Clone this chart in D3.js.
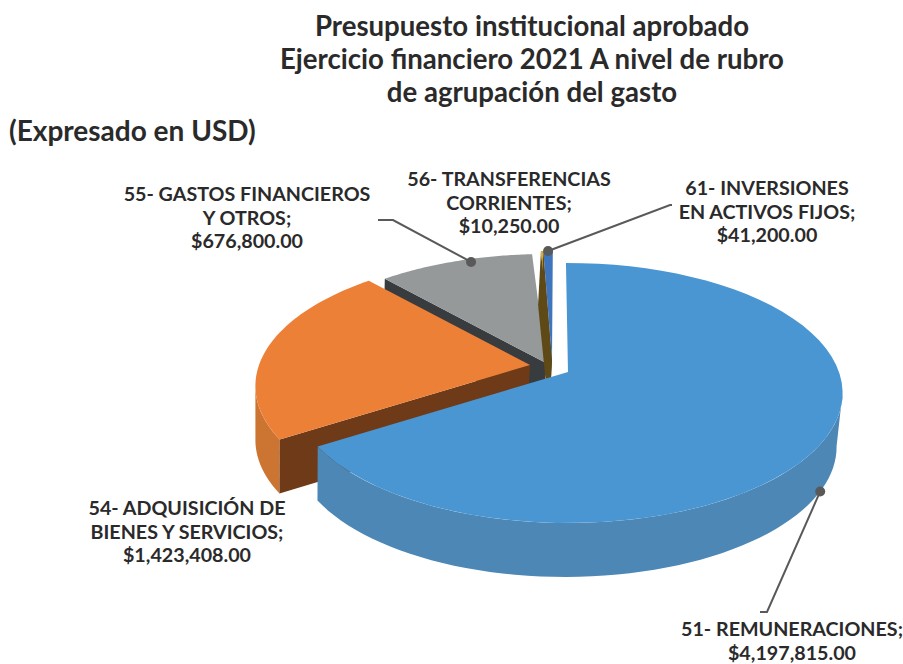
<!DOCTYPE html>
<html><head><meta charset="utf-8">
<script src="https://cdn.jsdelivr.net/npm/d3@7"></script>
<style>html,body{margin:0;background:#fff}svg{display:block}text{font-family:Lato,"Open Sans",sans-serif;fill:#2b2a2b}</style>
</head><body><svg id="c" width="903" height="664"></svg>
<script>
const categories=["51- REMUNERACIONES","54- ADQUISICIÓN DE BIENES Y SERVICIOS","55- GASTOS FINANCIEROS Y OTROS","56- TRANSFERENCIAS CORRIENTES","61- INVERSIONES EN ACTIVOS FIJOS"];
const values=[4197815,1423408,676800,10250,41200];
const topColors=["#4a96d3","#ed8037","#95999a","#dca522","#3f75bd"];
const rimColors=["#4d87b5","#cc7533","#6e7273","#7a5c17","#2f5a94"];
const wallColors=["#3d6f9a","#6f3a17","#383c3f","#5f4a17","#5f4a17"];
const apexX=[568,530,546,552,552];
const apexY=[372,365,363,360,360];
const sliceTurn=[0,0,0,0.7,0.7];
const titleLines=["Presupuesto institucional aprobado","Ejercicio financiero 2021 A nivel de rubro","de agrupación del gasto"];
const subtitle="(Expresado en USD)";
const labelLines=[["51- REMUNERACIONES;","$4,197,815.00"],["54- ADQUISICIÓN DE","BIENES Y SERVICIOS;","$1,423,408.00"],["55- GASTOS FINANCIEROS","Y OTROS;","$676,800.00"],["56- TRANSFERENCIAS","CORRIENTES;","$10,250.00"],["61- INVERSIONES","EN ACTIVOS FIJOS;","$41,200.00"]];
const labelX=[792,187,247,509,767];
const labelY=[636,515,201,186,195];
const leaderIdx=[0,2,4];

const svg=d3.select("#c");
const RX=271,RY=126.6,K=0.1615,DEPTH=54,SX=0.989,DX=-3;
const rad=Math.PI/180;
const startAngle=-0.5*rad;
const arcs=d3.pie().sort(null).startAngle(startAngle).endAngle(startAngle+2*Math.PI)(values);
function proj(i,a0,r=1,bottom=false){
  const a=a0+sliceTurn[i]*rad;
  const X=r*Math.sin(a),Y=r*Math.cos(a),w=1+K*Y;
  const s=bottom?SX:1;
  return [apexX[i]+s*RX*X/w+(bottom?DX:0), apexY[i]-RY*Y/w+(bottom?DEPTH:0)];
}
const angles=(a0,a1)=>d3.range(0,61).map(t=>a0+(a1-a0)*t/60);
const path=pts=>"M"+pts.map(p=>p[0].toFixed(2)+","+p[1].toFixed(2)).join("L")+"Z";
const order=[2,3,4,1,0];
// visible part of the outer rim lies between the ellipse's two side extremes
const rimFrom=99*rad, rimTo=261*rad;
const showWall=[false,true,true,true,true];
const g=svg.append("g");
order.forEach(i=>{
  const d=arcs[i];
  const as=angles(d.startAngle,d.endAngle);
  const apexTop=[apexX[i],apexY[i]],apexBot=[apexX[i]+DX,apexY[i]+DEPTH];
  const r0=Math.max(d.startAngle,rimFrom), r1=Math.min(d.endAngle,rimTo);
  if(r1>r0){
    const ra=angles(r0,r1);
    const rim=ra.map(a=>proj(i,a)).concat(ra.slice().reverse().map(a=>proj(i,a,1,true)));
    g.append("path").attr("d",path(rim)).attr("fill",rimColors[i]);
  }
  if(showWall[i]){
    g.append("path").attr("d",path([apexTop,proj(i,d.startAngle),proj(i,d.startAngle,1,true),apexBot])).attr("fill",wallColors[i]);
  }
  g.append("path").attr("d",path([apexTop].concat(as.map(a=>proj(i,a))))).attr("fill",topColors[i]);
});
// leaders
const elbowEndX=[760,378,672];
const elbowX=[767,393,670];
const elbowY=[612,220,205];
const leaderAngleShift=[0,3.5,0];
const leaderR=[1,0.97,1];
const leaderBottom=[true,false,false];
leaderIdx.forEach((i,n)=>{
  const mid=(arcs[i].startAngle+arcs[i].endAngle)/2+leaderAngleShift[n]*rad;
  const p=proj(i,mid,leaderR[n],leaderBottom[n]);
  g.append("path").attr("d",d3.line()([p,[elbowX[n],elbowY[n]],[elbowEndX[n],elbowY[n]]]))
    .attr("fill","none").attr("stroke","#595959").attr("stroke-width",2);
  g.append("circle").attr("cx",p[0]).attr("cy",p[1]).attr("r",5).attr("fill","#595959");
});
// titles
titleLines.forEach((t,n)=>svg.append("text").attr("x",532).attr("y",36+n*33).attr("text-anchor","middle")
  .attr("font-size",27.6).attr("font-weight",700).text(t));
svg.append("text").attr("x",9).attr("y",141).attr("font-size",28).attr("font-weight",700).text(subtitle);
// labels
labelLines.forEach((ls,i)=>ls.forEach((t,n)=>svg.append("text").attr("x",labelX[i]).attr("y",labelY[i]+n*23.5)
  .attr("text-anchor","middle").attr("font-size",19.7).attr("font-weight",700).text(t)));
</script></body></html>
